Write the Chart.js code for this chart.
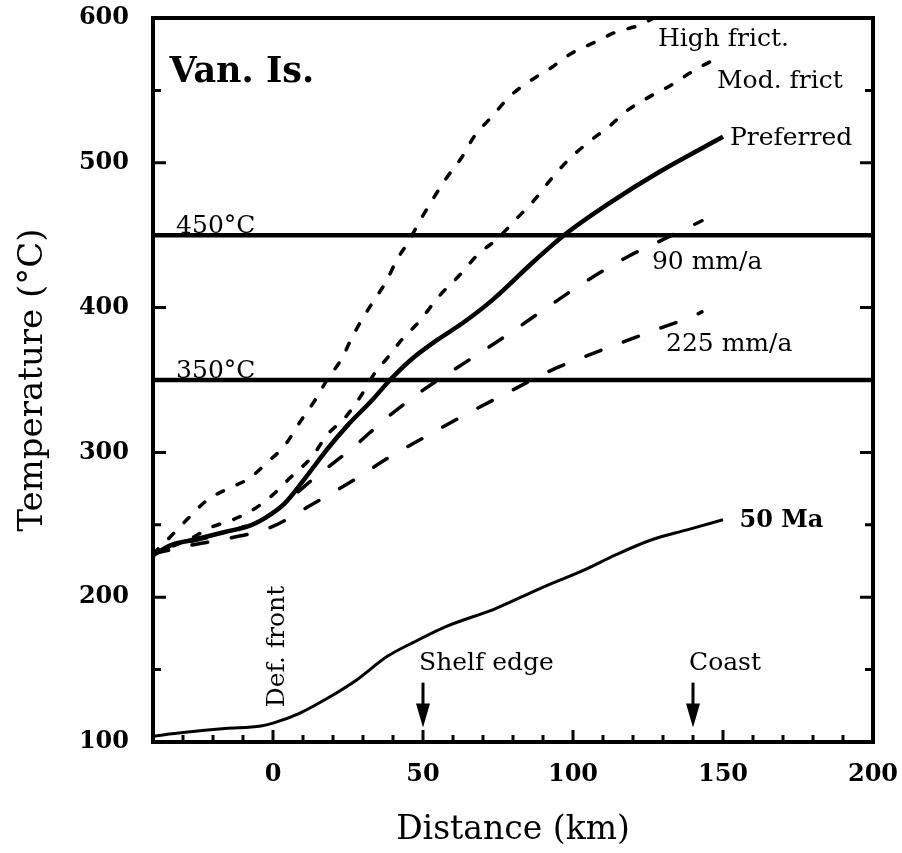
<!DOCTYPE html>
<html>
<head>
<meta charset="utf-8">
<script src="https://cdn.jsdelivr.net/npm/chart.js@4/dist/chart.umd.min.js"></script>
<style>
  html, body { margin: 0; padding: 0; background: #ffffff; }
  #wrap { width: 902px; height: 853px; }
</style>
</head>
<body>
<div id="wrap"><canvas id="c" width="902" height="853"></canvas></div>
<script>
// Temperature on the plate interface versus distance landward of the deformation front
const preferredKm = [-40, -34, -27, -16, -7, -2, 4, 11, 18, 25, 33, 39, 46, 55, 63, 73, 87, 97, 112, 129, 150];
const preferredT  = [229, 236, 239.5, 245, 250, 255.5, 265, 283, 302, 319, 336, 350, 364, 378, 389, 405, 432, 450, 472, 494, 518];

const highFrictKm = [-40, -36, -28, -22, -15, -8, -2, 4, 9, 14, 18, 23, 26, 30, 34, 38, 41, 45, 49, 53, 58, 63, 67, 73, 79, 86, 93, 99, 107, 114, 122, 127];
const highFrictT  = [230, 238, 255, 267, 275, 282, 293, 305, 321, 336, 350, 365, 378, 393, 406, 419, 432, 445, 460, 474, 490, 504, 518, 532, 546, 557, 566, 575, 583, 590, 595, 600];

const modFrictKm = [-40, -27, -21, -14, -7, -1, 6, 13, 18, 24, 29, 34, 38, 43, 49, 55, 62, 68, 75, 81, 87, 92, 98, 105, 112, 118, 125, 133, 139, 146, 150];
const modFrictT  = [230, 241, 248, 253, 260, 269, 283, 297, 312, 324, 338, 355, 365, 378, 391, 407, 422, 436, 448, 461, 474, 487, 501, 514, 525, 536, 545, 554, 562, 570, 573];

const rate90Km = [-40, -28, -15, -1, 13, 27, 38, 50, 64, 78, 92, 105, 119, 128, 140, 143];
const rate90T  = [230, 238, 245, 257, 281, 304, 324, 343, 362, 381, 401, 419, 436, 445, 457, 460];

const rate225Km = [-40, -27, -14, -1, 13, 27, 39, 51, 64, 78, 92, 105, 119, 128, 140, 143];
const rate225T  = [230, 236, 241, 248, 264, 281, 297, 311, 326, 341, 356, 367, 378, 385, 394, 397];

const ma50Km = [-40, -30, -16, -4, 0, 9, 18, 28, 38, 47, 58, 74, 89, 104, 114, 126, 138, 150];
const ma50T  = [104, 106.5, 109.3, 111, 113, 120, 130, 143, 159, 169, 180, 192, 206, 219, 229, 239.5, 246.5, 253.5];

const isotherms = [450, 350];
const isothermLabels = ['450°C', '350°C'];

const xTicks = [0, 50, 100, 150, 200];
const yTicks = [100, 200, 300, 400, 500, 600];

const markerNames = ['Shelf edge', 'Coast'];
const markerKm = [50, 140];

const pts = (xs, ys) => xs.map((x, i) => ({ x: x, y: ys[i] }));

const SERIF = '"DejaVu Serif", "Liberation Serif", serif';

const datasets = [];
isotherms.forEach(t => datasets.push({
  data: [{ x: -40, y: t }, { x: 200, y: t }],
  borderColor: '#000', borderWidth: 4.5, pointRadius: 0
}));
datasets.push({ data: pts(ma50Km, ma50T), borderColor: '#000', borderWidth: 3, pointRadius: 0, cubicInterpolationMode: 'monotone' });
datasets.push({ data: pts(preferredKm, preferredT), borderColor: '#000', borderWidth: 4.5, pointRadius: 0, cubicInterpolationMode: 'monotone' });
datasets.push({ data: pts(highFrictKm, highFrictT), borderColor: '#000', borderWidth: 3.5, borderDash: [7, 15], borderCapStyle: 'round', pointRadius: 0, cubicInterpolationMode: 'monotone' });
datasets.push({ data: pts(modFrictKm, modFrictT), borderColor: '#000', borderWidth: 3.5, borderDash: [7, 15], borderCapStyle: 'round', pointRadius: 0, cubicInterpolationMode: 'monotone' });
datasets.push({ data: pts(rate90Km, rate90T), borderColor: '#000', borderWidth: 3.5, borderDash: [16, 24], borderCapStyle: 'round', pointRadius: 0, cubicInterpolationMode: 'monotone' });
datasets.push({ data: pts(rate225Km, rate225T), borderColor: '#000', borderWidth: 3.5, borderDash: [16, 24], borderCapStyle: 'round', pointRadius: 0, cubicInterpolationMode: 'monotone' });

// Frame, inward tick marks, curve labels, arrows and axis titles
const decorations = {
  id: 'decorations',
  beforeDraw(chart) {
    const ctx = chart.ctx;
    ctx.save();
    ctx.fillStyle = '#fff';
    ctx.fillRect(0, 0, chart.width, chart.height);
    ctx.restore();
  },
  afterDatasetsDraw(chart) {
    const ctx = chart.ctx;
    const a = chart.chartArea;
    const xs = chart.scales.x, ys = chart.scales.y;
    const X = v => xs.getPixelForValue(v);
    const Y = v => ys.getPixelForValue(v);
    ctx.save();
    ctx.strokeStyle = '#000';
    ctx.fillStyle = '#000';
    ctx.lineCap = 'butt';

    // tick marks pointing into the plot
    ctx.lineWidth = 3;
    for (let t = 150; t < 600; t += 50) {
      const len = t % 100 === 0 ? 13 : 8;
      const y = Y(t);
      ctx.beginPath();
      ctx.moveTo(a.left, y); ctx.lineTo(a.left + len, y);
      ctx.moveTo(a.right, y); ctx.lineTo(a.right - len, y);
      ctx.stroke();
    }
    for (let k = -30; k < 200; k += 10) {
      const len = k % 50 === 0 ? 12 : 7;
      const x = X(k);
      ctx.beginPath();
      ctx.moveTo(x, a.bottom); ctx.lineTo(x, a.bottom - len);
      ctx.stroke();
    }

    // frame
    ctx.lineWidth = 4;
    ctx.strokeRect(a.left, a.top, a.right - a.left, a.bottom - a.top);

    // arrows for shelf edge and coast
    markerKm.forEach((k, i) => {
      const x = X(k);
      const tail = Y(141), tip = Y(110);
      ctx.lineWidth = 3;
      ctx.beginPath();
      ctx.moveTo(x, tail); ctx.lineTo(x, tip - 20);
      ctx.stroke();
      ctx.beginPath();
      ctx.moveTo(x - 7, tip - 24);
      ctx.lineTo(x + 7, tip - 24);
      ctx.lineTo(x, tip);
      ctx.closePath();
      ctx.fill();
      ctx.font = '25px ' + SERIF;
      ctx.textAlign = 'left';
      ctx.textBaseline = 'alphabetic';
      ctx.fillText(markerNames[i], X(k) - 4, Y(150));
    });

    const label = (txt, k, t, font) => {
      ctx.font = font;
      ctx.textAlign = 'left';
      ctx.textBaseline = 'alphabetic';
      ctx.fillText(txt, X(k), Y(t));
    };
    const f = '25px ' + SERIF;
    label('Van. Is.', -34.5, 556, 'bold 35px ' + SERIF);
    label('High frict.', 128.3, 581, f);
    label('Mod. frict', 148, 552, f);
    label('Preferred', 152.3, 512, f);
    label('90 mm/a', 126.3, 427, f);
    label('225 mm/a', 131, 370, f);
    label('50 Ma', 155.5, 248.5, 'bold 24px ' + SERIF);
    isotherms.forEach((t, i) => label(isothermLabels[i], -32.3, t + 1.5, f));

    // deformation front label, written upwards
    ctx.save();
    ctx.translate(X(3.7), Y(124));
    ctx.rotate(-Math.PI / 2);
    ctx.font = f;
    ctx.textAlign = 'left';
    ctx.textBaseline = 'alphabetic';
    ctx.fillText('Def. front', 0, 0);
    ctx.restore();

    // axis titles
    ctx.textAlign = 'center';
    ctx.textBaseline = 'middle';
    ctx.font = '33px ' + SERIF;
    ctx.fillText('Distance (km)', (a.left + a.right) / 2, 830);
    ctx.save();
    ctx.translate(33, (a.top + a.bottom) / 2);
    ctx.rotate(-Math.PI / 2);
    ctx.font = '34px ' + SERIF;
    ctx.fillText('Temperature (°C)', 0, 0);
    ctx.restore();

    ctx.restore();
  }
};

new Chart(document.getElementById('c'), {
  type: 'line',
  data: { datasets: datasets },
  options: {
    responsive: false,
    animation: false,
    layout: { padding: { top: 18, right: 29, left: 0, bottom: 0 } },
    plugins: { legend: { display: false }, tooltip: { enabled: false } },
    scales: {
      x: {
        type: 'linear', min: -40, max: 200,
        afterBuildTicks: s => { s.ticks = xTicks.map(v => ({ value: v })); },
        afterFit: s => { s.height = 111; s.paddingLeft = 0; s.paddingRight = 0; },
        grid: { display: false, drawTicks: false },
        border: { display: false },
        ticks: { color: '#000', padding: 18, maxRotation: 0, font: { family: SERIF, size: 24, weight: 'bold' } }
      },
      y: {
        type: 'linear', min: 100, max: 600,
        afterBuildTicks: s => { s.ticks = yTicks.map(v => ({ value: v })); },
        afterFit: s => { s.width = 153; s.paddingTop = 0; s.paddingBottom = 0; },
        grid: { display: false, drawTicks: false },
        border: { display: false },
        ticks: { color: '#000', padding: 24, font: { family: SERIF, size: 24, weight: 'bold' } }
      }
    }
  },
  plugins: [decorations]
});
</script>
</body>
</html>
